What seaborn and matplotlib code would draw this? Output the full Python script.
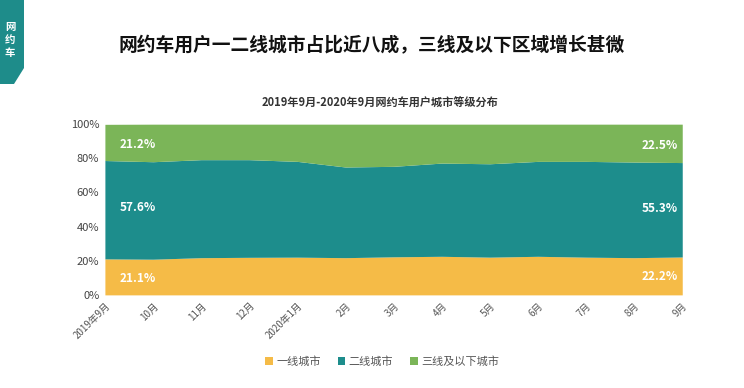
import matplotlib
matplotlib.use("Agg")
import matplotlib.pyplot as plt
import seaborn as sns
import numpy as np
from matplotlib.patches import Polygon

# data (percent)
months = ["2019年9月", "10月", "11月", "12月", "2020年1月", "2月", "3月",
          "4月", "5月", "6月", "7月", "8月", "9月"]
tier1 = [21.1, 20.9, 21.8, 22.0, 22.1, 21.8, 22.3, 22.6, 22.1, 22.6, 22.1, 21.8, 22.2]
tier2 = [57.6, 57.1, 57.4, 57.2, 56.1, 53.1, 53.0, 54.6, 54.7, 55.6, 56.1, 56.0, 55.3]
tier3 = [21.2, 22.0, 20.8, 20.8, 21.8, 25.1, 24.7, 22.8, 23.2, 21.8, 21.8, 22.2, 22.5]
series_names = ["一线城市", "二线城市", "三线及以下城市"]
colors = ["#F5BB47", "#1D8D8C", "#7BB558"]

sns.set_theme(style="white")
plt.rcParams['font.family'] = ['Noto Sans CJK SC', 'DejaVu Sans']

fig = plt.figure(figsize=(7.44, 3.88), dpi=100)
ax = fig.add_axes([0.141, 0.240, 0.776, 0.440])

x = np.arange(len(months))
ax.stackplot(x, tier1, tier2, tier3, colors=colors, labels=series_names, linewidth=0)

ax.set_xlim(0, len(months) - 1)
ax.set_ylim(0, 100)
ax.set_yticks(range(0, 101, 20))
ax.set_yticklabels([f"{v}%" for v in range(0, 101, 20)], fontsize=8, color="#444444")
ax.set_xticks(x)
ax.set_xticklabels(months, rotation=45, ha="right", rotation_mode="anchor",
                   fontsize=7, color="#555555")
ax.tick_params(axis="both", length=0, pad=4)
for s in ax.spines.values():
    s.set_visible(False)

# value labels at both ends
lab = dict(color="white", fontsize=8.5, fontweight="bold", va="center")
ax.text(0.3, tier1[0] / 2 - 1, f"{tier1[0]}%", ha="left", **lab)
ax.text(0.3, tier1[0] + tier2[0] / 2 + 1, f"{tier2[0]}%", ha="left", **lab)
ax.text(0.3, 100 - tier3[0] / 2 - 1.5, f"{tier3[0]}%", ha="left", **lab)
ax.text(11.9, tier1[-1] / 2 - 0.5, f"{tier1[-1]}%", ha="right", **lab)
ax.text(11.9, tier1[-1] + tier2[-1] / 2 + 1, f"{tier2[-1]}%", ha="right", **lab)
ax.text(11.9, 100 - tier3[-1] / 2 - 1, f"{tier3[-1]}%", ha="right", **lab)

leg = ax.legend(loc="upper center", bbox_to_anchor=(0.48, -0.30), ncol=3, frameon=False,
                fontsize=8, handlelength=0.7, handleheight=0.7, columnspacing=1.5,
                handletextpad=0.3)
for t in leg.get_texts():
    t.set_color("#555555")

fig.text(0.500, 0.882, "网约车用户一二线城市占比近八成，三线及以下区域增长甚微",
         ha="center", va="center", fontsize=13.5, fontweight="bold", color="#111111")
fig.text(0.511, 0.735, "2019年9月-2020年9月网约车用户城市等级分布",
         ha="center", va="center", fontsize=8, fontweight="bold", color="#333333")

# side tag
tag = Polygon([[0, 1], [24 / 744, 1], [24 / 744, 1 - 68 / 388], [14 / 744, 1 - 84 / 388],
               [0, 1 - 84 / 388]], closed=True, transform=fig.transFigure,
              facecolor="#1E8C8A", edgecolor="none")
fig.patches.append(tag)
for i, ch in enumerate("网约车"):
    fig.text(10 / 744, 1 - (27 + i * 13) / 388, ch, ha="center", va="center",
             fontsize=7.5, fontweight="bold", color="white")

fig.savefig("out.png", dpi=100)
